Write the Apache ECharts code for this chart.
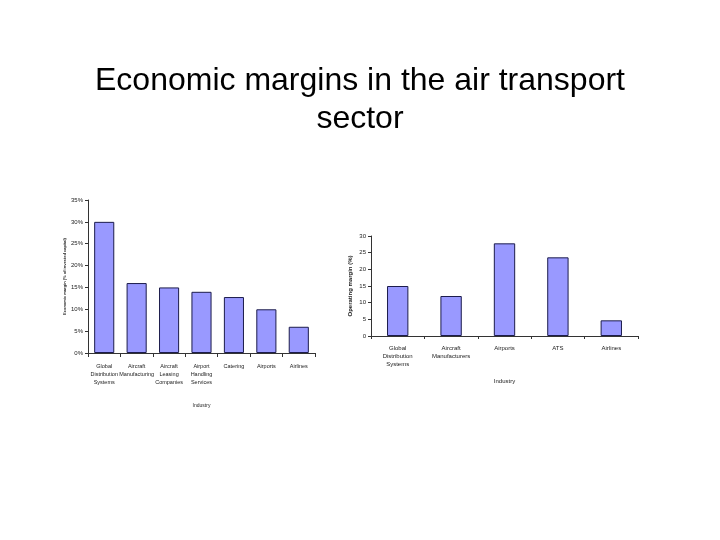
<!DOCTYPE html>
<html>
<head>
<meta charset="utf-8">
<script src="https://cdn.jsdelivr.net/npm/echarts@6/dist/echarts.min.js"></script>
<style>html,body{margin:0;padding:0;background:#fff}#c{width:720px;height:540px}</style>
</head>
<body>
<div id="c"></div>
<script>
var titleText = 'Economic margins in the air transport\nsector';

var leftCategories = ['Global\nDistribution\nSystems', 'Aircraft\nManufacturing', 'Aircraft\nLeasing\nCompanies', 'Airport\nHandling\nServices', 'Catering', 'Airports', 'Airlines'];
var leftValues = [30, 16, 15, 14, 12.8, 10, 6];
var leftAxisName = 'Economic margin (% of invested capital)';

var rightCategories = ['Global\nDistribution\nSystems', 'Aircraft\nManufacturers', 'Airports', 'ATS', 'Airlines'];
var rightValues = [15, 12, 27.8, 23.6, 4.7];
var rightAxisName = 'Operating margin (%)';
var xAxisName = 'Industry';

var font = 'Liberation Sans, Arial, sans-serif';
var axisLine = {show: true, lineStyle: {color: '#333', width: 1}};
var barStyle = {color: '#9999ff', borderColor: '#1c1c4c', borderWidth: 1};

var chart = echarts.init(document.getElementById('c'));
chart.setOption({
  backgroundColor: '#fff',
  animation: false,
  title: {
    text: titleText,
    left: 'center',
    top: 57,
    textStyle: {fontFamily: font, fontSize: 32, fontWeight: 'normal', color: '#000', lineHeight: 38, align: 'center'}
  },
  grid: [
    {left: 88, right: 405, top: 200, bottom: 187},
    {left: 371, right: 82, top: 236, bottom: 204}
  ],
  xAxis: [
    {
      type: 'category', gridIndex: 0, data: leftCategories,
      axisLine: axisLine,
      axisTick: {show: true, length: 4, lineStyle: {color: '#333'}},
      axisLabel: {fontFamily: font, fontSize: 5.5, color: '#222', lineHeight: 8, margin: 9, interval: 0},
      name: xAxisName, nameLocation: 'middle', nameGap: 50,
      nameTextStyle: {fontFamily: font, fontSize: 5, color: '#222'}
    },
    {
      type: 'category', gridIndex: 1, data: rightCategories,
      axisLine: axisLine,
      axisTick: {show: true, length: 3, lineStyle: {color: '#333'}},
      axisLabel: {fontFamily: font, fontSize: 6, color: '#222', lineHeight: 8, margin: 8, interval: 0},
      name: xAxisName, nameLocation: 'middle', nameGap: 42,
      nameTextStyle: {fontFamily: font, fontSize: 6, color: '#222'}
    }
  ],
  yAxis: [
    {
      type: 'value', gridIndex: 0, min: 0, max: 35, interval: 5,
      axisLine: axisLine,
      axisTick: {show: true, length: 3, lineStyle: {color: '#333'}},
      splitLine: {show: false},
      axisLabel: {fontFamily: font, fontSize: 6, color: '#222', formatter: '{value}%', margin: 5},
      name: leftAxisName, nameLocation: 'middle', nameGap: 15, nameRotate: 90,
      nameTextStyle: {fontFamily: font, fontSize: 4, fontWeight: 'bold', color: '#222'}
    },
    {
      type: 'value', gridIndex: 1, min: 0, max: 30, interval: 5,
      axisLine: axisLine,
      axisTick: {show: true, length: 3, lineStyle: {color: '#333'}},
      splitLine: {show: false},
      axisLabel: {fontFamily: font, fontSize: 6, color: '#222', margin: 5},
      name: rightAxisName, nameLocation: 'middle', nameGap: 18, nameRotate: 90,
      nameTextStyle: {fontFamily: font, fontSize: 6, fontWeight: 'bold', color: '#222'}
    }
  ],
  series: [
    {type: 'bar', xAxisIndex: 0, yAxisIndex: 0, data: leftValues, barCategoryGap: '38%', itemStyle: barStyle},
    {type: 'bar', xAxisIndex: 1, yAxisIndex: 1, data: rightValues, barCategoryGap: '60%', itemStyle: barStyle}
  ]
});
</script>
</body>
</html>
